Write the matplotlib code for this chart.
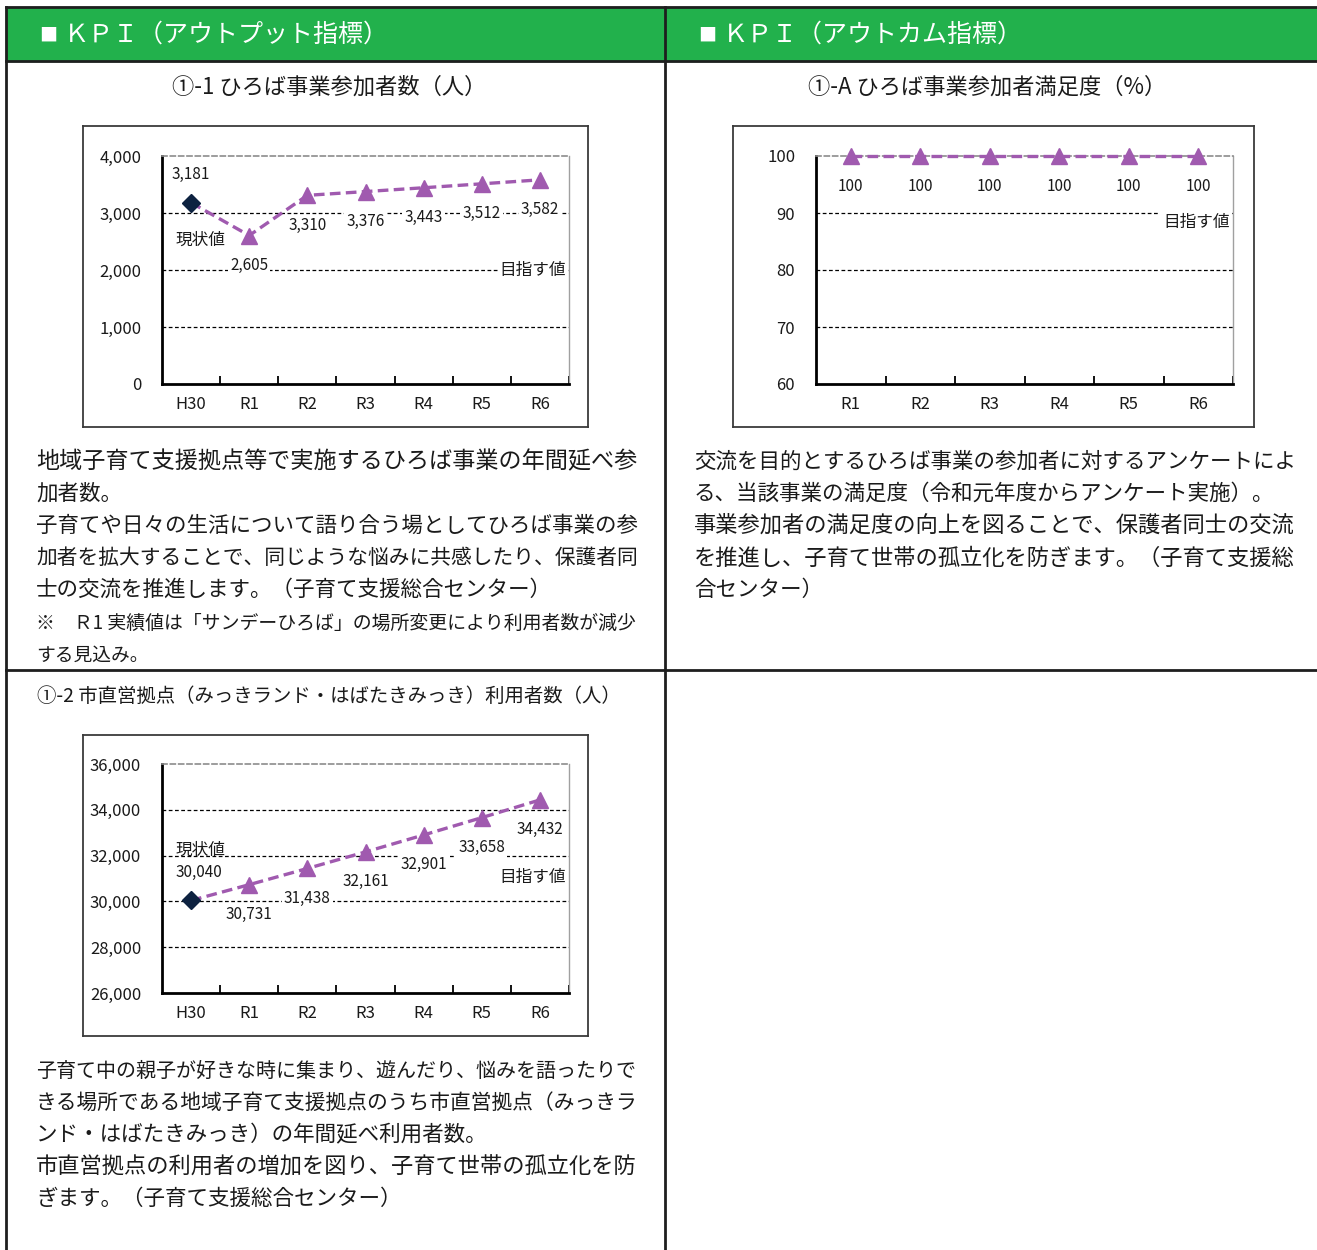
import numpy as np
import matplotlib
matplotlib.use('Agg')
import matplotlib.pyplot as plt

plt.rcParams['font.family'] = ['Noto Sans CJK JP', 'DejaVu Sans']

W, H = 1317, 1250

# data
years_all = ['H30', 'R1', 'R2', 'R3', 'R4', 'R5', 'R6']
hiroba_participants = [3181, 2605, 3310, 3376, 3443, 3512, 3582]
years_survey = ['R1', 'R2', 'R3', 'R4', 'R5', 'R6']
hiroba_satisfaction = [100, 100, 100, 100, 100, 100]
direct_users = [30040, 30731, 31438, 32161, 32901, 33658, 34432]

ticks_participants = [0, 1000, 2000, 3000, 4000]
ticks_satisfaction = [60, 70, 80, 90, 100]
ticks_direct = [26000, 28000, 30000, 32000, 34000, 36000]

header_left = 'ＫＰＩ（アウトプット指標）'
header_right = 'ＫＰＩ（アウトカム指標）'
title_1 = '①-1 ひろば事業参加者数（人）'
title_a = '①-A ひろば事業参加者満足度（%）'
title_2 = '①-2 市直営拠点（みっきランド・はばたきみっき）利用者数（人）'

text_1 = [['地域子育て支援拠点等で実施するひろば事業の年間延べ参', '加者数。'],
          ['子育てや日々の生活について語り合う場としてひろば事業の参',
           '加者を拡大することで、同じような悩みに共感したり、保護者同',
           '士の交流を推進します。（子育て支援総合センター）']]
note_1 = [['※　Ｒ1 実績値は「サンデーひろば」の場所変更により利用者数が減少', 'する見込み。']]
text_a = [['交流を目的とするひろば事業の参加者に対するアンケートによ',
           'る、当該事業の満足度（令和元年度からアンケート実施）。'],
          ['事業参加者の満足度の向上を図ることで、保護者同士の交流',
           'を推進し、子育て世帯の孤立化を防ぎます。（子育て支援総',
           '合センター）']]
text_2 = [['子育て中の親子が好きな時に集まり、遊んだり、悩みを語ったりで',
           'きる場所である地域子育て支援拠点のうち市直営拠点（みっきラ',
           'ンド・はばたきみっき）の年間延べ利用者数。'],
          ['市直営拠点の利用者の増加を図り、子育て世帯の孤立化を防',
           'ぎます。（子育て支援総合センター）']]

GREEN = '#22B14C'
PURPLE = '#A05AAF'
NAVY = '#0D2240'
INK = '#1a1a1a'

fig = plt.figure(figsize=(W / 100, H / 100), dpi=100)
renderer = fig.canvas.get_renderer()

bg = fig.add_axes([0, 0, 1, 1])
bg.set_xlim(0, W)
bg.set_ylim(H, 0)
bg.axis('off')

# table frame
bg.add_patch(plt.Rectangle((6, 7), W - 6, 54, color=GREEN, zorder=0))
frame_kw = dict(color='#1e1e1e', lw=2, zorder=1)
bg.plot([6, W], [7, 7], **frame_kw)
bg.plot([6, W], [61, 61], **frame_kw)
bg.plot([6, W], [670, 670], **frame_kw)
bg.plot([6, 6], [7, H], **frame_kw)
bg.plot([665, 665], [7, H], **frame_kw)

bg.text(48, 36, '■', color='white', fontsize=13, ha='center', va='center')
bg.text(64, 35, header_left, color='white', fontsize=18, ha='left', va='center')
bg.text(707, 36, '■', color='white', fontsize=13, ha='center', va='center')
bg.text(723, 35, header_right, color='white', fontsize=18, ha='left', va='center')
bg.text(329, 87, title_1, color=INK, fontsize=16, ha='center', va='center')
bg.text(987, 87, title_a, color=INK, fontsize=16, ha='center', va='center')
t2 = bg.text(329, 696, title_2, color=INK, fontsize=16, ha='center', va='center')
w2 = t2.get_window_extent(renderer).width
if w2 > 585:
    t2.set_fontsize(16 * 585 / w2)


def put_paragraphs(paras, x, y, size, width, pitch=32):
    for lines in paras:
        for i, s in enumerate(lines):
            t = bg.text(x, y, s, color=INK, fontsize=size, ha='left', va='center')
            w = t.get_window_extent(renderer).width
            if i < len(lines) - 1:
                t.set_fontsize(np.clip(size * width / w, size - 1.5, size + 1.2))
            elif w > width:
                t.set_fontsize(size * width / w)
            y += pitch
    return y


put_paragraphs(text_1, 36, 462, 15.5, 600)
put_paragraphs(note_1, 36, 623, 13.5, 600)
put_paragraphs(text_a, 694, 462, 15.5, 601)
put_paragraphs(text_2, 36, 1071, 15.5, 600)


def px_axes(x0, y0, x1, y1):
    return fig.add_axes([x0 / W, 1 - y1 / H, (x1 - x0) / W, (y1 - y0) / H])


def draw_chart(box, plot, cats, values, yticks, has_base):
    frame = px_axes(*box)
    frame.set_xticks([])
    frame.set_yticks([])
    for s in frame.spines.values():
        s.set_color('#3a3a3a')
        s.set_linewidth(1.3)

    ax = px_axes(*plot)
    x = np.arange(len(cats))
    ax.set_xlim(-0.5, len(cats) - 0.5)
    ax.set_ylim(yticks[0], yticks[-1])
    ax.set_yticks(yticks)
    ax.set_yticklabels([f'{v:,}' for v in yticks], fontsize=12, color=INK)
    ax.set_xticks(x)
    ax.set_xticklabels(cats, fontsize=12, color=INK)
    ax.set_xticks(x + 0.5, minor=True)
    ax.tick_params(axis='x', which='major', length=0, pad=9)
    ax.tick_params(axis='x', which='minor', direction='in', length=6, width=1.3)
    ax.tick_params(axis='y', length=0, pad=15)
    for v in yticks[1:-1]:
        ax.axhline(v, color='black', lw=0.9, ls=(0, (3, 2)), zorder=1)
    ax.spines['top'].set_color('#8c8c8c')
    ax.spines['top'].set_linestyle((0, (3, 2)))
    ax.spines['top'].set_linewidth(1.2)
    ax.spines['right'].set_color('#a0a0a0')
    ax.spines['right'].set_linewidth(1.0)
    ax.spines['left'].set_linewidth(2)
    ax.spines['bottom'].set_linewidth(2)

    ax.plot(x, values, color=PURPLE, lw=2.4, ls=(0, (3.2, 1.6)), zorder=3, clip_on=False)
    start = 1 if has_base else 0
    ax.plot(x[start:], values[start:], ls='none', marker='^', ms=12,
            color=PURPLE, zorder=5, clip_on=False)
    if has_base:
        ax.plot(x[:1], values[:1], ls='none', marker='D', ms=9,
                color=NAVY, zorder=6, clip_on=False)
    return ax


def value_labels(ax, x, values, dy, first=0):
    for i in range(first, len(values)):
        ax.annotate(f'{values[i]:,}', (x[i], values[i]), xytext=(0, dy),
                    textcoords='offset points', ha='center', va='center',
                    fontsize=11, color=INK, zorder=4,
                    bbox=dict(fc='white', ec='none', pad=1.5))


lbl_kw = dict(fontsize=12, color=INK, va='center', zorder=4)

# ①-1
ax1 = draw_chart((83, 126, 588, 427), (162, 156, 569, 384), years_all,
                 hiroba_participants, ticks_participants, True)
x1 = np.arange(len(years_all))
value_labels(ax1, x1, hiroba_participants, -21.5, first=1)
ax1.annotate(f'{hiroba_participants[0]:,}', (x1[0], hiroba_participants[0]),
             xytext=(0, 20), textcoords='offset points', ha='center', va='center',
             fontsize=11, color=INK)
ax1.annotate('現状値', (x1[0], hiroba_participants[0]), xytext=(6.5, -27),
             textcoords='offset points', ha='center', **lbl_kw)
ax1.text(6.45, ticks_participants[2], '目指す値', ha='right',
         bbox=dict(fc='white', ec='none', pad=1), **lbl_kw)

# ①-A
ax2 = draw_chart((733, 126, 1254, 427), (816, 156, 1233, 384), years_survey,
                 hiroba_satisfaction, ticks_satisfaction, False)
x2 = np.arange(len(years_survey))
value_labels(ax2, x2, hiroba_satisfaction, -22)
ax2.text(5.45, 88.4, '目指す値', ha='right',
         bbox=dict(fc='white', ec='none', pad=2), **lbl_kw)

# ①-2
ax3 = draw_chart((83, 735, 588, 1036), (162, 764, 569, 993), years_all,
                 direct_users, ticks_direct, True)
x3 = np.arange(len(years_all))
value_labels(ax3, x3, direct_users, -21.5, first=1)
ax3.annotate(f'{direct_users[0]:,}', (x3[0], direct_users[0]),
             xytext=(6, 20), textcoords='offset points', ha='center', va='center',
             fontsize=11, color=INK)
ax3.annotate('現状値', (x3[0], direct_users[0]), xytext=(6.5, 36),
             textcoords='offset points', ha='center', **lbl_kw)
ax3.text(6.45, 31066, '目指す値', ha='right',
         bbox=dict(fc='white', ec='none', pad=1), **lbl_kw)

fig.savefig('out.png', dpi=100, facecolor='white')
